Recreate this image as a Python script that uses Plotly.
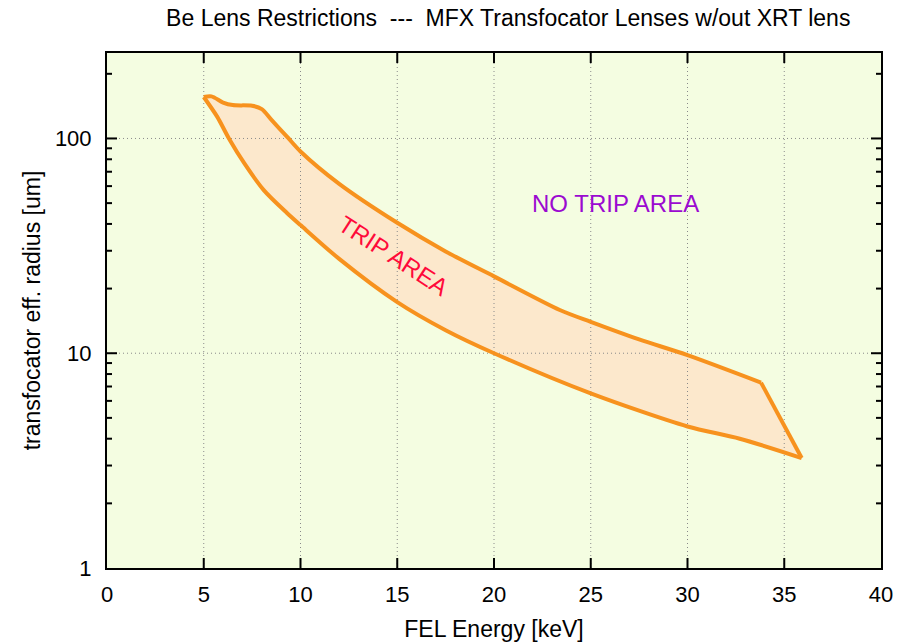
import plotly.graph_objects as go
import numpy as np

# Upper (outer) boundary of trip area: FEL energy [keV] vs radius [um]
upper_energy = [5.0, 5.4, 6.0, 6.5, 7.5, 8.0, 8.5, 9.3, 10.0, 12.0, 15.0, 17.5, 20.0, 23.4, 25.0, 27.5, 30.0, 33.8]
upper_radius = [156, 157, 147, 143, 142, 137, 122, 102, 87, 61.5, 40.5, 29.8, 22.8, 15.9, 14.0, 11.6, 9.8, 7.3]

# Lower boundary (low energy to high energy)
lower_energy = [5.0, 5.7, 6.3, 7.1, 8.1, 9.3, 10.0, 12.0, 15.0, 17.5, 20.0, 25.0, 30.0, 32.7, 35.9]
lower_radius = [156, 126, 100, 76.5, 57.5, 45.0, 39.5, 27.5, 17.3, 12.8, 10.0, 6.5, 4.56, 4.0, 3.25]

x_ticks = [0, 5, 10, 15, 20, 25, 30, 35, 40]
y_ticks = [1, 10, 100]
y_minor_ticks = [2, 3, 4, 5, 6, 7, 8, 9, 20, 30, 40, 50, 60, 70, 80, 90, 200]

line_color = "#f7921e"
fill_color = "rgb(252,232,204)"
grid_color = "#8a8a8a"
font = "Liberation Sans, Arial, sans-serif"
x_min, x_max = 0, 40
y_min, y_max = 1, 250

# plot-area size in pixels (used to convert tick lengths in px to data units)
L, R, T, B = 107, 17, 53, 75
W, H = 898, 643
plot_w = W - L - R
plot_h = H - T - B
x_per_px = (x_max - x_min) / plot_w
dec_per_px = (np.log10(y_max) - np.log10(y_min)) / plot_h

fig = go.Figure()
# filled region: upper boundary then lower boundary reversed
fig.add_trace(go.Scatter(
    x=upper_energy + lower_energy[::-1], y=upper_radius + lower_radius[::-1],
    mode="lines", fill="toself", fillcolor=fill_color,
    line=dict(color=fill_color, width=0),
    hoverinfo="skip", showlegend=False,
))

# dotted grid lines at the inner tick positions (drawn over the fill, as in the original)
gx, gy = [], []
for xv in x_ticks[1:-1]:
    gx += [xv, xv, None]
    gy += [y_min, y_max, None]
for yv in y_ticks[1:]:
    gx += [x_min, x_max, None]
    gy += [yv, yv, None]
fig.add_trace(go.Scatter(x=gx, y=gy, mode="lines",
                         line=dict(color=grid_color, width=1, dash="1px,3px"),
                         hoverinfo="skip", showlegend=False))

# boundary lines
fig.add_trace(go.Scatter(x=upper_energy, y=upper_radius, mode="lines",
                         line=dict(color=line_color, width=4, shape="spline", smoothing=0.8),
                         hoverinfo="skip", showlegend=False))
fig.add_trace(go.Scatter(x=lower_energy, y=lower_radius, mode="lines",
                         line=dict(color=line_color, width=4, shape="spline", smoothing=0.8),
                         hoverinfo="skip", showlegend=False))
fig.add_trace(go.Scatter(x=[upper_energy[-1], lower_energy[-1]], y=[upper_radius[-1], lower_radius[-1]],
                         mode="lines", line=dict(color=line_color, width=4),
                         hoverinfo="skip", showlegend=False))

# inside tick marks on all four sides (major 10 px, minor 5 px)
tx, ty = [], []
major_len, minor_len = 10, 5
for xv in x_ticks[1:-1]:
    tx += [xv, xv, None, xv, xv, None]
    ty += [y_min, y_min * 10 ** (major_len * dec_per_px), None,
           y_max, y_max / 10 ** (major_len * dec_per_px), None]
for yv, ln in [(v, major_len) for v in y_ticks[1:]] + [(v, minor_len) for v in y_minor_ticks]:
    tx += [x_min, x_min + ln * x_per_px, None, x_max, x_max - ln * x_per_px, None]
    ty += [yv, yv, None, yv, yv, None]
fig.add_trace(go.Scatter(x=tx, y=ty, mode="lines", line=dict(color="black", width=2),
                         hoverinfo="skip", showlegend=False))

fig.add_annotation(x=26.3, y=np.log10(50), text="NO TRIP AREA", showarrow=False,
                   font=dict(family=font, size=24, color="#9b0ad0"))
fig.add_annotation(x=14.8, y=np.log10(28.5), text="TRIP AREA", showarrow=False, textangle=33,
                   font=dict(family=font, size=24, color="#ff0a3a"))

main_axis = dict(
    showline=True, linecolor="black", linewidth=2, mirror=True,
    ticks="", showgrid=False, zeroline=False, automargin=False,
    tickfont=dict(family=font, size=22, color="black"),
)

fig.update_layout(
    xaxis=dict(range=[x_min, x_max], tickvals=x_ticks, ticktext=[str(v) for v in x_ticks],
               ticklabelstandoff=6,
               title=dict(text="FEL Energy [keV]", font=dict(family=font, size=23, color="black"), standoff=14),
               **main_axis),
    yaxis=dict(type="log", range=[np.log10(y_min), np.log10(y_max)], tickvals=y_ticks,
               ticktext=[str(v) for v in y_ticks], ticklabelstandoff=9,
               title=dict(text="transfocator eff. radius [um]", font=dict(family=font, size=23, color="black"), standoff=8),
               **main_axis),
    width=W, height=H,
    margin=dict(l=L, r=R, t=T, b=B),
    paper_bgcolor="white", plot_bgcolor="#f4fde1",
    title=dict(text="Be Lens Restrictions  ---  MFX Transfocator Lenses w/out XRT lens",
               x=0.566, xanchor="center", y=0.972, yanchor="middle",
               font=dict(family=font, size=23, color="black")),
)

fig.write_html("out.html")
